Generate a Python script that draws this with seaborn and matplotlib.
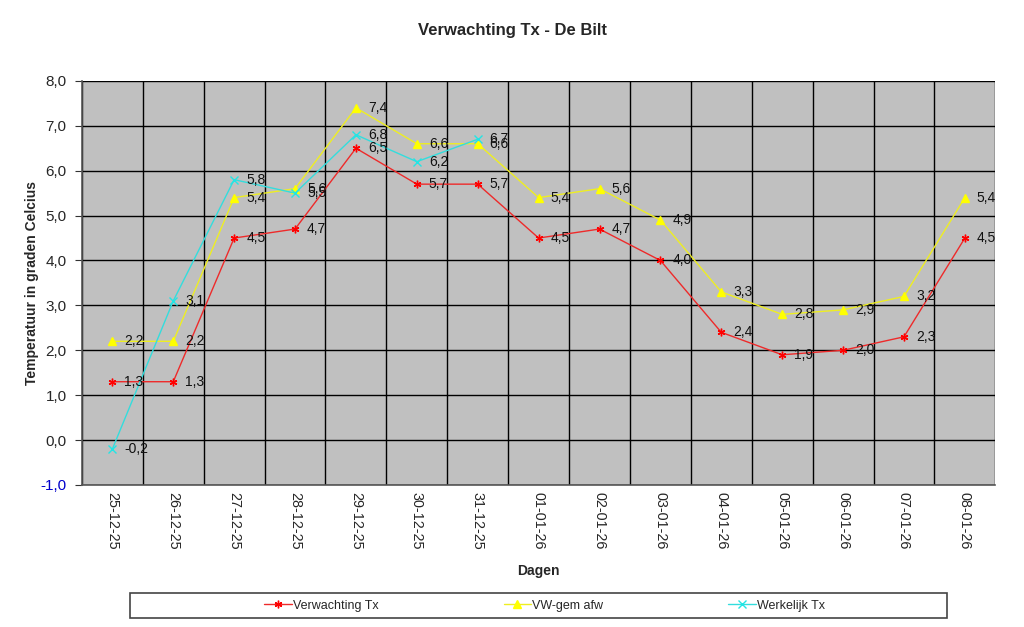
import numpy as np
import pandas as pd
import matplotlib
matplotlib.use("Agg")
import matplotlib.pyplot as plt
from matplotlib.patches import Rectangle
import seaborn as sns

# --- DATA ---
DAGEN = ["25-12-25", "26-12-25", "27-12-25", "28-12-25", "29-12-25", "30-12-25",
         "31-12-25", "01-01-26", "02-01-26", "03-01-26", "04-01-26", "05-01-26",
         "06-01-26", "07-01-26", "08-01-26"]
VERWACHTING = [1.3, 1.3, 4.5, 4.7, 6.5, 5.7, 5.7, 4.5, 4.7, 4.0, 2.4, 1.9, 2.0, 2.3, 4.5]
VW_GEM = [2.2, 2.2, 5.4, 5.6, 7.4, 6.6, 6.6, 5.4, 5.6, 4.9, 3.3, 2.8, 2.9, 3.2, 5.4]
WERKELIJK = [-0.2, 3.1, 5.8, 5.5, 6.8, 6.2, 6.7]

SERIES = [
    ("Verwachting Tx", VERWACHTING, "#ee2a2a", "#ff0000", (6, 2, 0)),
    ("VW-gem afw", VW_GEM, "#eeee22", "#ffff00", "^"),
    ("Werkelijk Tx", WERKELIJK, "#33dddd", "#22e5e5", "x"),
]

sns.set_style("white")
plt.rcParams["font.family"] = ["Liberation Sans", "DejaVu Sans"]

fig = plt.figure(figsize=(10.24, 6.27), dpi=100)
ax = fig.add_axes([0.080, 0.2265, 0.892, 0.6445])
ax.set_facecolor("#c0c0c0")

handles = []
for name, vals, lcol, mcol, marker in SERIES:
    df = pd.DataFrame({"x": np.arange(len(vals)), "y": vals})
    sns.lineplot(data=df, x="x", y="y", ax=ax, color=lcol, linewidth=1.0,
                 marker=marker, markersize=5.5, markerfacecolor=mcol,
                 markeredgecolor=mcol, markeredgewidth=1.0, label=name,
                 legend=False)
    for i, v in enumerate(vals):
        ax.annotate(f"{v:.1f}".replace(".", ","), (i, v), xytext=(12, 0),
                    textcoords="offset pixels", va="center", ha="left",
                    fontsize=10, color="#111111", zorder=5)
    handles.append(plt.Line2D([], [], color=lcol, marker=marker, markersize=5.5,
                              markerfacecolor=mcol, markeredgecolor=mcol,
                              markeredgewidth=1.0, linewidth=1.0))

ax.set_xlim(-0.5, len(DAGEN) - 0.5)
ax.set_ylim(-1.0, 8.0)

ax.set_xticks(np.arange(len(DAGEN)))
ax.set_xticklabels(DAGEN, rotation=270, fontsize=10.4)
ax.set_xticks(np.arange(-0.5, len(DAGEN), 1.0), minor=True)
ax.tick_params(axis="x", which="major", length=0, pad=5)
ax.tick_params(axis="x", which="minor", length=5, color="#333333", direction="out")

yt = np.arange(-1, 9, 1)
ax.set_yticks(yt)
ax.set_yticklabels([f"{v:.1f}".replace(".", ",") for v in yt], fontsize=11)
ax.get_yticklabels()[0].set_color("#0000cc")
ax.tick_params(axis="y", length=5, color="#333333", direction="out", left=True, pad=6)

ax.grid(True, axis="y", which="major", color="black", linewidth=1.0)
ax.grid(True, axis="x", which="minor", color="black", linewidth=1.0)
ax.set_axisbelow(True)

for side in ["top", "right"]:
    ax.spines[side].set_visible(False)
for side in ["left", "bottom"]:
    ax.spines[side].set_color("#555555")
    ax.spines[side].set_linewidth(1.2)

ax.set_xlabel("Dagen", fontsize=10, fontweight="bold", labelpad=10)
ax.set_ylabel("Temperatuur in graden Celcius", fontsize=10, fontweight="bold", labelpad=1)
fig.text(0.5, 0.952, "Verwachting Tx - De Bilt", ha="center", va="center",
         fontsize=12, fontweight="bold")

# legend box
fig.patches.append(Rectangle((130 / 1024, 1 - 618 / 627), 817 / 1024, 25 / 627,
                             transform=fig.transFigure, facecolor="white",
                             edgecolor="#444444", linewidth=1.2, zorder=0))
leg = fig.legend(handles, [s[0] for s in SERIES], loc="center",
                 bbox_to_anchor=(0.532, 1 - 605.5 / 627), bbox_transform=fig.transFigure,
                 ncol=3, frameon=False, fontsize=9, numpoints=1,
                 handlelength=2.2, handletextpad=0.1, columnspacing=10)

fig.savefig("out.png", dpi=100, facecolor="white")
